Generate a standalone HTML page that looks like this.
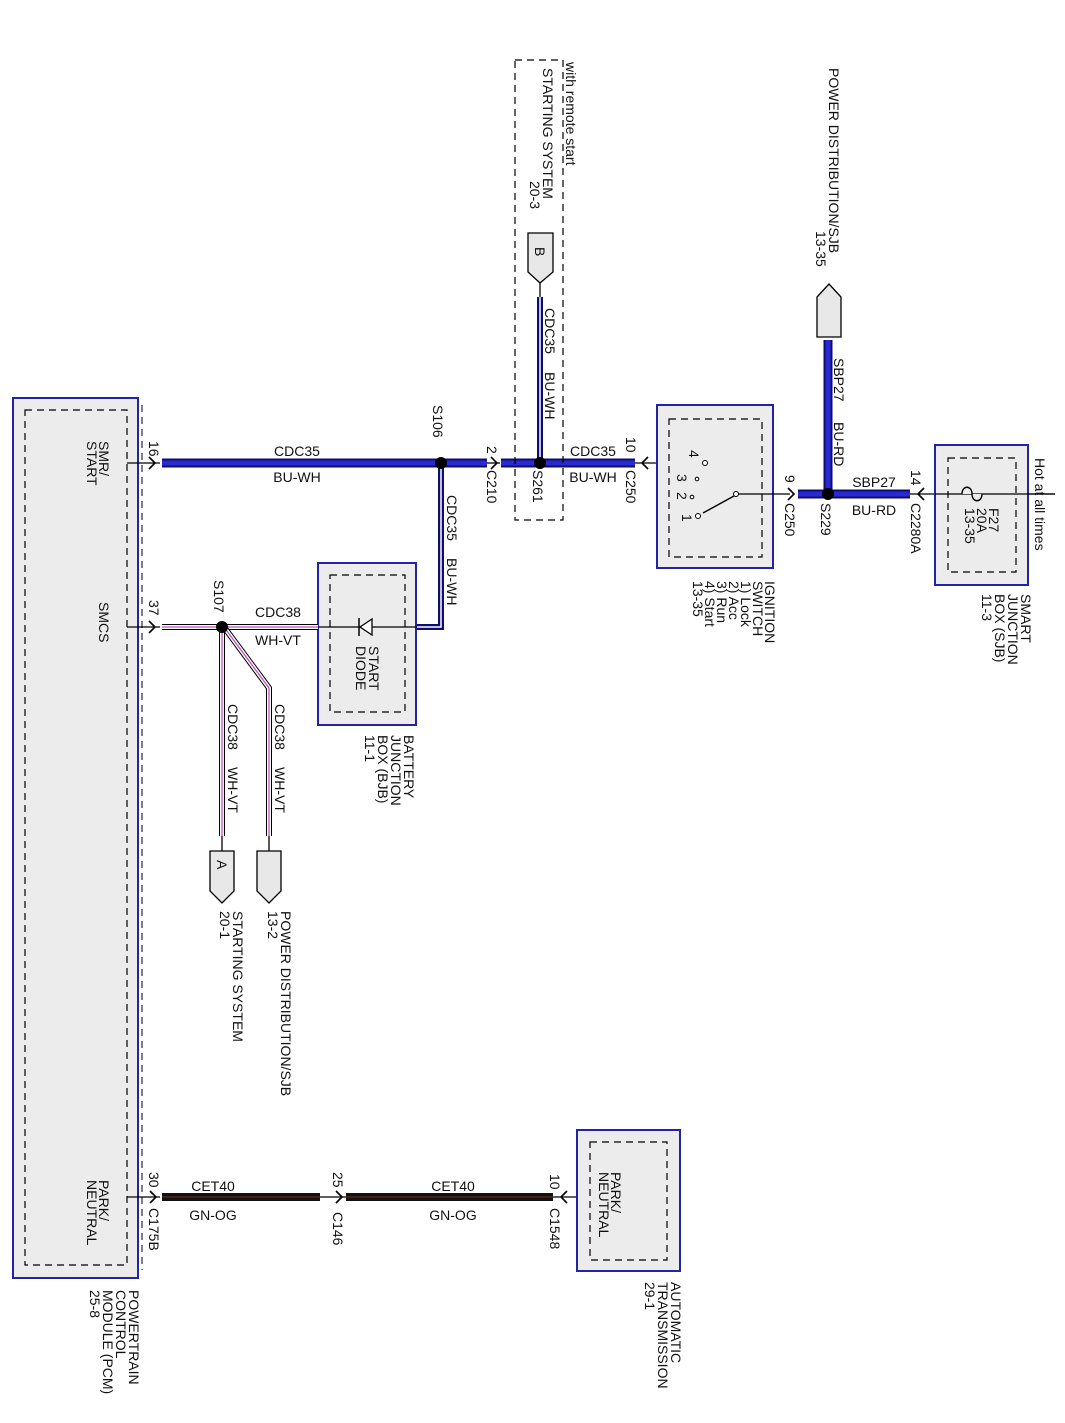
<!DOCTYPE html>
<html><head><meta charset="utf-8"><style>
html,body{margin:0;padding:0;background:#fff;}
svg{display:block;font-family:"Liberation Sans",Arial,sans-serif;}
text{font-size:14px;fill:#111;}
</style></head><body>
<svg width="1065" height="1423" viewBox="0 0 1065 1423" xmlns="http://www.w3.org/2000/svg">
<defs>
<g id="ar"><path d="M-6,-6 L0,0 L-6,6" fill="none" stroke="#000" stroke-width="1.6"/></g>
</defs>

<!-- PCM -->
<rect x="13" y="398" width="125" height="880" fill="#ececec" stroke="#2323a8" stroke-width="2"/>
<rect x="25" y="410" width="102" height="855" fill="none" stroke="#000" stroke-width="1.2" stroke-dasharray="7,5"/>
<line x1="142" y1="405" x2="142" y2="1270" stroke="#000" stroke-width="1" stroke-dasharray="7,5"/>
<text transform="translate(99,441) rotate(90)">SMR/</text>
<text transform="translate(87,441) rotate(90)">START</text>
<text transform="translate(99,602) rotate(90)">SMCS</text>
<text transform="translate(99,1180) rotate(90)">PARK/</text>
<text transform="translate(87,1180) rotate(90)">NEUTRAL</text>
<text transform="translate(129,1290) rotate(90)">POWERTRAIN</text>
<text transform="translate(116,1290) rotate(90)">CONTROL</text>
<text transform="translate(103,1290) rotate(90)">MODULE (PCM)</text>
<text transform="translate(90,1290) rotate(90)">25-8</text>

<!-- main CDC35 wire -->
<line x1="127" y1="463" x2="160" y2="463" stroke="#000" stroke-width="1.3"/>
<use href="#ar" x="155" y="463"/>
<line x1="162" y1="463" x2="487" y2="463" stroke="#0d0d70" stroke-width="9"/>
<line x1="162" y1="463" x2="487" y2="463" stroke="#2a2ad2" stroke-width="5"/>
<line x1="487" y1="463" x2="500" y2="463" stroke="#000" stroke-width="1.3"/>
<use href="#ar" x="497" y="463"/>
<line x1="501" y1="463" x2="635" y2="463" stroke="#0d0d70" stroke-width="9"/>
<line x1="501" y1="463" x2="635" y2="463" stroke="#2a2ad2" stroke-width="5"/>
<line x1="635" y1="463" x2="705" y2="463" stroke="#000" stroke-width="1.3"/>
<path d="M648,457 L642,463 L648,469" fill="none" stroke="#000" stroke-width="1.6"/>
<text x="297" y="456" text-anchor="middle">CDC35</text>
<text x="297" y="482" text-anchor="middle">BU-WH</text>
<text x="593" y="456" text-anchor="middle">CDC35</text>
<text x="593" y="482" text-anchor="middle">BU-WH</text>
<text transform="translate(149,441) rotate(90)">16</text>
<text transform="translate(433,405) rotate(90)">S106</text>
<text transform="translate(487,446) rotate(90)">2</text>
<text transform="translate(487,470) rotate(90)">C210</text>
<text transform="translate(533,470) rotate(90)">S261</text>
<text transform="translate(626,437) rotate(90)">10</text>
<text transform="translate(626,470) rotate(90)">C250</text>

<!-- remote start box -->
<rect x="515" y="60" width="48" height="460" fill="none" stroke="#000" stroke-width="1.2" stroke-dasharray="7,5"/>
<text transform="translate(566,62) rotate(90)">with remote start</text>
<text transform="translate(543,68) rotate(90)">STARTING SYSTEM</text>
<text transform="translate(530,181) rotate(90)">20-3</text>
<polygon points="528,233 553,233 553,272 540,283 528,272" fill="#e8e8e8" stroke="#000" stroke-width="1.3"/>
<text transform="translate(535,247) rotate(90)">B</text>
<line x1="540" y1="283" x2="540" y2="297" stroke="#000" stroke-width="1.3"/>
<line x1="540" y1="297" x2="540" y2="463" stroke="#0d0d70" stroke-width="6"/>
<line x1="540" y1="297" x2="540" y2="463" stroke="#fff" stroke-width="1.5"/>
<text transform="translate(545,308) rotate(90)">CDC35</text>
<text transform="translate(545,372) rotate(90)">BU-WH</text>

<!-- S106 down to diode -->
<path d="M441,463 L441,627 L417,627" fill="none" stroke="#0d0d70" stroke-width="6"/>
<path d="M441,463 L441,627 L417,627" fill="none" stroke="#fff" stroke-width="1.5"/>
<text transform="translate(447,495) rotate(90)">CDC35</text>
<text transform="translate(447,558) rotate(90)">BU-WH</text>
<circle cx="441" cy="463" r="6" fill="#000"/>
<circle cx="540" cy="463" r="6" fill="#000"/>

<!-- start diode box -->
<rect x="318" y="563" width="98" height="162" fill="#ececec" stroke="#2323a8" stroke-width="2"/>
<rect x="330" y="575" width="75" height="137" fill="none" stroke="#000" stroke-width="1.2" stroke-dasharray="7,5"/>
<line x1="318" y1="627" x2="417" y2="627" stroke="#000" stroke-width="1.2"/>
<polygon points="360,627 372,619 372,635" fill="#fff" stroke="#000" stroke-width="1.3"/>
<line x1="359" y1="618" x2="359" y2="636" stroke="#000" stroke-width="1.5"/>
<text transform="translate(369,646) rotate(90)">START</text>
<text transform="translate(356,646) rotate(90)">DIODE</text>
<text transform="translate(404,735) rotate(90)">BATTERY</text>
<text transform="translate(391,735) rotate(90)">JUNCTION</text>
<text transform="translate(378,735) rotate(90)">BOX (BJB)</text>
<text transform="translate(365,735) rotate(90)">11-1</text>

<!-- CDC38 wires -->
<line x1="127" y1="627" x2="160" y2="627" stroke="#000" stroke-width="1.3"/>
<use href="#ar" x="155" y="627"/>
<g fill="none">
<path d="M162,627 L318,627" stroke="#000" stroke-width="6"/>
<path d="M162,627 L318,627" stroke="#fff" stroke-width="4"/>
<path d="M162,627 L318,627" stroke="#c050c0" stroke-width="1.3"/>
<path d="M222,627 L222,836" stroke="#000" stroke-width="6"/>
<path d="M222,627 L222,836" stroke="#fff" stroke-width="4"/>
<path d="M222,627 L222,836" stroke="#c050c0" stroke-width="1.3"/>
<path d="M224,627 L269,688 L269,836" stroke="#000" stroke-width="6"/>
<path d="M224,627 L269,688 L269,836" stroke="#fff" stroke-width="4"/>
<path d="M224,627 L269,688 L269,836" stroke="#c050c0" stroke-width="1.3"/>
</g>
<circle cx="222" cy="627" r="6" fill="#000"/>
<text x="278" y="617" text-anchor="middle">CDC38</text>
<text x="278" y="645" text-anchor="middle">WH-VT</text>
<text transform="translate(149,600) rotate(90)">37</text>
<text transform="translate(214,580) rotate(90)">S107</text>
<text transform="translate(228,704) rotate(90)">CDC38</text>
<text transform="translate(228,767) rotate(90)">WH-VT</text>
<text transform="translate(275,704) rotate(90)">CDC38</text>
<text transform="translate(275,767) rotate(90)">WH-VT</text>
<line x1="222" y1="836" x2="222" y2="851" stroke="#000" stroke-width="1.3"/>
<line x1="269" y1="836" x2="269" y2="851" stroke="#000" stroke-width="1.3"/>
<polygon points="210,851 234,851 234,891 222,903 210,891" fill="#e8e8e8" stroke="#000" stroke-width="1.3"/>
<polygon points="257,851 281,851 281,891 269,903 257,891" fill="#e8e8e8" stroke="#000" stroke-width="1.3"/>
<text transform="translate(217,860) rotate(90)">A</text>
<text transform="translate(233,911) rotate(90)">STARTING SYSTEM</text>
<text transform="translate(220,911) rotate(90)">20-1</text>
<text transform="translate(281,911) rotate(90)">POWER DISTRIBUTION/SJB</text>
<text transform="translate(268,911) rotate(90)">13-2</text>

<!-- ignition switch -->
<rect x="657" y="405" width="116" height="163" fill="#ececec" stroke="#2323a8" stroke-width="2"/>
<rect x="669" y="419" width="93" height="138" fill="none" stroke="#000" stroke-width="1.2" stroke-dasharray="7,5"/>
<circle cx="705" cy="463" r="2.5" fill="#fff" stroke="#000"/>
<circle cx="697" cy="479" r="1.8" fill="#fff" stroke="#000"/>
<circle cx="692" cy="497" r="1.8" fill="#fff" stroke="#000"/>
<circle cx="698" cy="516" r="2.5" fill="#fff" stroke="#000"/>
<circle cx="736" cy="494" r="2.5" fill="#fff" stroke="#000"/>
<line x1="734" y1="496" x2="703" y2="513" stroke="#000" stroke-width="1.4"/>
<line x1="738" y1="494" x2="790" y2="494" stroke="#000" stroke-width="1.3"/>
<text transform="translate(689,450) rotate(90)">4</text>
<text transform="translate(677,474) rotate(90)">3</text>
<text transform="translate(677,492) rotate(90)">2</text>
<text transform="translate(682,514) rotate(90)">1</text>
<text transform="translate(765,581) rotate(90)">IGNITION</text>
<text transform="translate(753,581) rotate(90)">SWITCH</text>
<text transform="translate(741,581) rotate(90)">1) Lock</text>
<text transform="translate(729,581) rotate(90)">2) Acc</text>
<text transform="translate(717,581) rotate(90)">3) Run</text>
<text transform="translate(705,581) rotate(90)">4) Start</text>
<text transform="translate(693,581) rotate(90)">13-35</text>

<!-- S229 area -->
<use href="#ar" x="794" y="494"/>
<line x1="798" y1="494" x2="910" y2="494" stroke="#0d0d70" stroke-width="9"/>
<line x1="798" y1="494" x2="910" y2="494" stroke="#2a2ad2" stroke-width="5"/>
<line x1="828" y1="340" x2="828" y2="494" stroke="#0d0d70" stroke-width="9"/>
<line x1="828" y1="340" x2="828" y2="494" stroke="#2a2ad2" stroke-width="5"/>
<circle cx="828" cy="494" r="6" fill="#000"/>
<line x1="910" y1="494" x2="1055" y2="494" stroke="#000" stroke-width="1.3"/>
<path d="M924,488 L918,494 L924,500" fill="none" stroke="#000" stroke-width="1.6"/>
<polygon points="829,284 841,297 841,337 817,337 817,297" fill="#e8e8e8" stroke="#000" stroke-width="1.3"/>
<text transform="translate(834,358) rotate(90)">SBP27</text>
<text transform="translate(834,422) rotate(90)">BU-RD</text>
<text x="874" y="487" text-anchor="middle">SBP27</text>
<text x="874" y="515" text-anchor="middle">BU-RD</text>
<text transform="translate(785,475) rotate(90)">9</text>
<text transform="translate(785,503) rotate(90)">C250</text>
<text transform="translate(821,503) rotate(90)">S229</text>
<text transform="translate(911,470) rotate(90)">14</text>
<text transform="translate(911,503) rotate(90)">C2280A</text>
<text transform="translate(829,68) rotate(90)">POWER DISTRIBUTION/SJB</text>
<text transform="translate(816,231) rotate(90)">13-35</text>

<!-- SJB -->
<rect x="935" y="445" width="93" height="140" fill="#ececec" stroke="#2323a8" stroke-width="2"/>
<rect x="948" y="458" width="68" height="114" fill="none" stroke="#000" stroke-width="1.2" stroke-dasharray="7,5"/>
<line x1="935" y1="494" x2="1055" y2="494" stroke="#000" stroke-width="1.3"/>
<path d="M962,494 C962,485 972,485 972,494 C972,503 982,503 982,494" fill="#ececec" stroke="#000" stroke-width="1.4"/>
<text transform="translate(989,508) rotate(90)">F27</text>
<text transform="translate(977,508) rotate(90)">20A</text>
<text transform="translate(965,508) rotate(90)">13-35</text>
<text transform="translate(1035,458) rotate(90)">Hot at all times</text>
<text transform="translate(1021,594) rotate(90)">SMART</text>
<text transform="translate(1008,594) rotate(90)">JUNCTION</text>
<text transform="translate(995,594) rotate(90)">BOX (SJB)</text>
<text transform="translate(982,594) rotate(90)">11-3</text>

<!-- park/neutral -->
<line x1="127" y1="1197" x2="160" y2="1197" stroke="#000" stroke-width="1.3"/>
<use href="#ar" x="156" y="1197"/>
<line x1="162" y1="1197" x2="320" y2="1197" stroke="#111" stroke-width="8"/>
<line x1="162" y1="1197" x2="320" y2="1197" stroke="#7a2a20" stroke-width="1"/>
<line x1="320" y1="1197" x2="346" y2="1197" stroke="#000" stroke-width="1.3"/>
<use href="#ar" x="342" y="1197"/>
<line x1="346" y1="1197" x2="553" y2="1197" stroke="#111" stroke-width="8"/>
<line x1="346" y1="1197" x2="553" y2="1197" stroke="#7a2a20" stroke-width="1"/>
<line x1="553" y1="1197" x2="592" y2="1197" stroke="#000" stroke-width="1.3"/>
<path d="M567,1191 L561,1197 L567,1203" fill="none" stroke="#000" stroke-width="1.6"/>
<text x="213" y="1191" text-anchor="middle">CET40</text>
<text x="213" y="1220" text-anchor="middle">GN-OG</text>
<text x="453" y="1191" text-anchor="middle">CET40</text>
<text x="453" y="1220" text-anchor="middle">GN-OG</text>
<text transform="translate(149,1172) rotate(90)">30</text>
<text transform="translate(149,1208) rotate(90)">C175B</text>
<text transform="translate(333,1172) rotate(90)">25</text>
<text transform="translate(333,1212) rotate(90)">C146</text>
<text transform="translate(550,1174) rotate(90)">10</text>
<text transform="translate(550,1208) rotate(90)">C1548</text>
<rect x="577" y="1130" width="103" height="141" fill="#ececec" stroke="#2323a8" stroke-width="2"/>
<rect x="590" y="1142" width="77" height="118" fill="none" stroke="#000" stroke-width="1.2" stroke-dasharray="7,5"/>
<text transform="translate(611,1172) rotate(90)">PARK/</text>
<text transform="translate(599,1172) rotate(90)">NEUTRAL</text>
<text transform="translate(671,1282) rotate(90)">AUTOMATIC</text>
<text transform="translate(658,1282) rotate(90)">TRANSMISSION</text>
<text transform="translate(645,1282) rotate(90)">29-1</text>
</svg>
</body></html>
